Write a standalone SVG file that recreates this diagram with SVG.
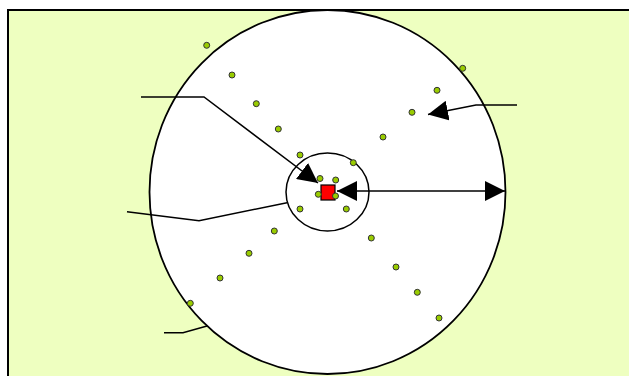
<svg xmlns="http://www.w3.org/2000/svg" width="629" height="376" viewBox="0 0 629 376">
<style>
.ln{fill:none;stroke:#000;stroke-width:1.5}
.dot{fill:#99cc00;stroke:#333;stroke-width:1}
</style>
<defs>
<marker id="ah" viewBox="0 0 20 20" refX="20" refY="10" markerWidth="20" markerHeight="20" markerUnits="userSpaceOnUse" orient="auto">
<path d="M0,0 L20,10 L0,20 Z" fill="#000"/>
</marker>
<marker id="ahs" viewBox="0 0 20 20" refX="0" refY="10" markerWidth="20" markerHeight="20" markerUnits="userSpaceOnUse" orient="auto">
<path d="M20,0 L0,10 L20,20 Z" fill="#000"/>
</marker>
</defs>
<g id="background">
<rect x="8" y="10" width="630" height="380" fill="#eeffc0" stroke="#000" stroke-width="2"/>
</g>
<g id="outer-circle">
<ellipse cx="327.5" cy="192" rx="178" ry="182" fill="#fff" stroke="#000" stroke-width="1.8"/>
</g>
<g id="inner-circle">
<ellipse cx="327.5" cy="192" rx="41.5" ry="39" fill="#fff" stroke="#000" stroke-width="1.5"/>
</g>
<g id="dots">
<circle class="dot" cx="206.7" cy="45.3" r="3"/>
<circle class="dot" cx="232" cy="75" r="3"/>
<circle class="dot" cx="256.3" cy="103.7" r="3"/>
<circle class="dot" cx="278.3" cy="129" r="3"/>
<circle class="dot" cx="300" cy="155" r="3"/>
<circle class="dot" cx="320" cy="178.5" r="3"/>
<circle class="dot" cx="462.7" cy="68.3" r="3"/>
<circle class="dot" cx="437" cy="90.3" r="3"/>
<circle class="dot" cx="412" cy="112.3" r="3"/>
<circle class="dot" cx="383" cy="137" r="3"/>
<circle class="dot" cx="353.3" cy="162.7" r="3"/>
<circle class="dot" cx="335.7" cy="180" r="3"/>
<circle class="dot" cx="300" cy="209" r="3"/>
<circle class="dot" cx="274.3" cy="231" r="3"/>
<circle class="dot" cx="249" cy="253.3" r="3"/>
<circle class="dot" cx="220" cy="278" r="3"/>
<circle class="dot" cx="190.3" cy="303.3" r="3"/>
<circle class="dot" cx="346.3" cy="209" r="3"/>
<circle class="dot" cx="371.3" cy="238" r="3"/>
<circle class="dot" cx="396" cy="267" r="3"/>
<circle class="dot" cx="417.3" cy="292.3" r="3"/>
<circle class="dot" cx="439" cy="318" r="3"/>
</g>
<g id="center-square">
<rect x="321" y="185" width="14" height="15" fill="#ff0000" stroke="#000" stroke-width="1.2"/>
<circle class="dot" cx="318.3" cy="194.3" r="3"/>
<circle class="dot" cx="335.5" cy="196" r="3"/>
</g>
<g id="connectors">
<polyline class="ln" points="141,97 204,97 318,183" marker-end="url(#ah)"/>
<polyline class="ln" points="127,211.7 199,220.7 287,202.7"/>
<polyline class="ln" points="164,332.7 183,332.7 207,326"/>
<polyline class="ln" points="517,105 476,105 428,114.5" marker-end="url(#ah)"/>
<line class="ln" x1="337" y1="191" x2="505" y2="191" marker-start="url(#ahs)" marker-end="url(#ah)"/>
</g>
</svg>
